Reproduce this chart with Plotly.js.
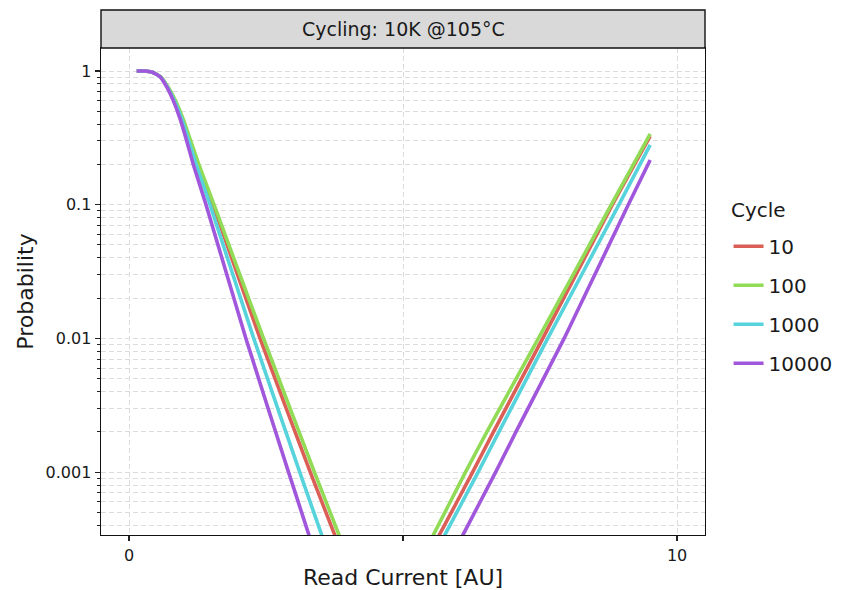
<!DOCTYPE html>
<html>
<head>
<meta charset="utf-8">
<script src="https://cdn.plot.ly/plotly-3.0.1.min.js"></script>
<style>html,body{margin:0;padding:0;background:#fff;}#chart{width:843px;height:590px;}</style>
</head>
<body>
<div id="chart"></div>
<script>
// Series names and colours
const cycles = ['10', '100', '1000', '10000'];
const colors = ['#db5f57', '#91db57', '#57d3db', '#a157db'];
const legendTitle = 'Cycle';

// Left (falling) branch: shared probability levels
const leftP = [1, 0.999, 0.983, 0.95, 0.906, 0.76, 0.6, 0.44, 0.3, 0.2, 0.1, 0.01, 0.001, 0.00035, 0.0001];
const left10    = [0.14, 0.29, 0.41, 0.495, 0.575, 0.706, 0.839, 0.976, 1.113, 1.259, 1.533, 2.391, 3.307, 3.741, 4.252];
const left100   = [0.14, 0.29, 0.41, 0.497, 0.577, 0.712, 0.849, 0.985, 1.126, 1.274, 1.551, 2.454, 3.383, 3.819, 4.330];
const left1000  = [0.14, 0.29, 0.41, 0.493, 0.571, 0.699, 0.827, 0.958, 1.089, 1.223, 1.478, 2.276, 3.115, 3.504, 3.960];
const left10000 = [0.14, 0.29, 0.41, 0.490, 0.566, 0.688, 0.808, 0.931, 1.053, 1.173, 1.405, 2.133, 2.911, 3.272, 3.695];

// Right (rising) branch
const rightP10    = [0.0001, 0.00035, 0.001, 0.002, 0.01, 0.1, 0.326];
const rightP100   = [0.0001, 0.00035, 0.001, 0.002, 0.01, 0.1, 0.338];
const rightP1000  = [0.0001, 0.00035, 0.001, 0.002, 0.01, 0.1, 0.28];
const rightP10000 = [0.0001, 0.00035, 0.001, 0.002, 0.01, 0.1, 0.216];
const right10    = [4.95, 5.68, 6.27, 6.65, 7.55, 8.82, 9.51];
const right100   = [4.89, 5.57, 6.14, 6.53, 7.47, 8.80, 9.51];
const right1000  = [5.10, 5.78, 6.37, 6.75, 7.64, 8.94, 9.51];
const right10000 = [5.43, 6.11, 6.69, 7.06, 7.94, 9.11, 9.51];

// Ticks
const xTickVals = [0, 5, 10];
const xTickText = ['0', '', '10'];
const yTickVals = [0.001, 0.01, 0.1, 1];
const yTickText = ['0.001', '0.01', '0.1', '1'];
const yMinorVals = [0.0002,0.0003,0.0004,0.0005,0.0006,0.0007,0.0008,0.0009,
  0.002,0.003,0.004,0.005,0.006,0.007,0.008,0.009,
  0.02,0.03,0.04,0.05,0.06,0.07,0.08,0.09,
  0.2,0.3,0.4,0.5,0.6,0.7,0.8,0.9];

const lefts = [left10, left100, left1000, left10000];
const rights = [right10, right100, right1000, right10000];
const rightPs = [rightP10, rightP100, rightP1000, rightP10000];

const traces = cycles.map((c, i) => ({
  type: 'scatter',
  mode: 'lines',
  name: c,
  legendgroup: 'g' + i,
  x: lefts[i].concat([null], rights[i]),
  y: leftP.concat([null], rightPs[i]),
  line: {color: colors[i], width: 3.6, shape: 'spline', smoothing: 0.5},
  connectgaps: false
}));

const F = 'DejaVu Sans, sans-serif';
const gridCol = '#dcdcdc';

const layout = {
  width: 843, height: 590,
  margin: {l: 101, r: 138, t: 48, b: 55, autoexpand: false},
  paper_bgcolor: '#ffffff', plot_bgcolor: '#ffffff',
  font: {family: F, color: '#1a1a1a'},
  showlegend: true,
  legend: {
    x: 1.039, xanchor: 'left', y: 0.633, yanchor: 'top',
    traceorder: 'grouped', tracegroupgap: 10,
    font: {family: F, size: 20, color: '#1a1a1a'},
    bgcolor: 'rgba(0,0,0,0)'
  },
  xaxis: {
    range: [-0.511, 10.51],
    tickmode: 'array', tickvals: xTickVals, ticktext: xTickText,
    ticks: 'outside', ticklen: 5, tickwidth: 1.2, tickcolor: '#222',
    tickfont: {family: F, size: 16, color: '#1a1a1a'},
    showgrid: true, gridcolor: gridCol, griddash: '5px,3px', gridwidth: 1,
    showline: true, linecolor: '#111', linewidth: 1.4, mirror: true,
    zeroline: false,
    title: {text: 'Read Current [AU]', font: {family: F, size: 22, color: '#1a1a1a'}, standoff: 8}
  },
  yaxis: {
    type: 'log',
    range: [-3.47, 0.172],
    tickmode: 'array', tickvals: yTickVals, ticktext: yTickText,
    ticks: 'outside', ticklen: 5, tickwidth: 1.2, tickcolor: '#222',
    tickfont: {family: F, size: 16, color: '#1a1a1a'},
    showgrid: true, gridcolor: gridCol, griddash: '5px,3px', gridwidth: 1,
    minor: {tickmode: 'array', tickvals: yMinorVals, ticks: 'outside', ticklen: 3, tickwidth: 1, tickcolor: '#222',
            showgrid: true, gridcolor: gridCol, griddash: '5px,3px', gridwidth: 1},
    showline: true, linecolor: '#111', linewidth: 1.4, mirror: true,
    zeroline: false,
    title: {text: 'Probability', font: {family: F, size: 22, color: '#1a1a1a'}, standoff: 6}
  },
  shapes: [{
    type: 'rect', xref: 'paper', yref: 'paper',
    x0: 0, x1: 1, y0: 1, y1: 1 + 38 / 487,
    fillcolor: '#d9d9d9', line: {color: '#111', width: 1.4}, layer: 'above'
  }],
  annotations: [{
    xref: 'paper', yref: 'paper', x: 0.5, y: 1 + 19 / 487,
    xanchor: 'center', yanchor: 'middle', showarrow: false,
    text: 'Cycling: 10K @105°C',
    font: {family: F, size: 19, color: '#1a1a1a'}
  }, {
    xref: 'paper', yref: 'paper', x: (729 - 101) / 604, y: (535 - 210) / 487,
    xanchor: 'left', yanchor: 'middle', showarrow: false,
    text: legendTitle,
    font: {family: F, size: 20, color: '#1a1a1a'}
  }]
};

Plotly.newPlot('chart', traces, layout, {displayModeBar: false, staticPlot: true});
</script>
</body>
</html>
